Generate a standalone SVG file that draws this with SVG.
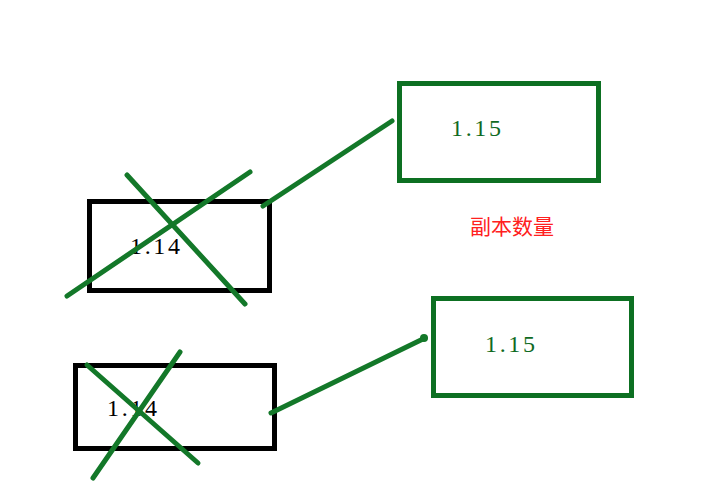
<svg xmlns="http://www.w3.org/2000/svg" width="726" height="496" viewBox="0 0 726 496">
<style>
.bk{fill:none;stroke:#000;stroke-width:5}
.gb{fill:none;stroke:#0d7022;stroke-width:5}
.pen{fill:none;stroke:#137829;stroke-width:5;stroke-linecap:round}
.t{font-family:"Liberation Serif",serif;font-size:24px}
.tb{fill:#000}
.tg{fill:#0f6a22}
.red{font-family:"Noto Sans CJK SC",sans-serif;font-size:21px;fill:#ff2020}
</style>
<rect width="726" height="496" fill="#fff"/>
<g id="node-old1">
<rect class="bk" x="89.5" y="201.5" width="180" height="89"/>
<text class="t tb" x="130" y="254" textLength="50">1.14</text>
<line class="pen" x1="67" y1="296" x2="250" y2="172"/>
<line class="pen" x1="127" y1="175" x2="245" y2="304"/>
</g>
<g id="node-old2">
<rect class="bk" x="75.5" y="365.5" width="199" height="83"/>
<text class="t tb" x="107" y="416" textLength="50">1.14</text>
<line class="pen" x1="87" y1="365" x2="198" y2="463"/>
<line class="pen" x1="93" y1="478" x2="180" y2="352"/>
</g>
<g id="node-new1">
<rect class="gb" x="399.5" y="83.5" width="199" height="97"/>
<text class="t tg" x="451" y="136" textLength="50">1.15</text>
</g>
<g id="node-new2">
<rect class="gb" x="433.5" y="298.5" width="198" height="97"/>
<text class="t tg" x="485" y="352" textLength="50">1.15</text>
</g>
<g id="label">
<text class="red" x="470" y="234">副本数量</text>
</g>
<g id="connectors">
<line class="pen" x1="263" y1="206" x2="392" y2="121"/>
<line class="pen" x1="271" y1="413" x2="425" y2="338"/>
<circle cx="424" cy="338" r="4" fill="#137829"/>
</g>
</svg>
